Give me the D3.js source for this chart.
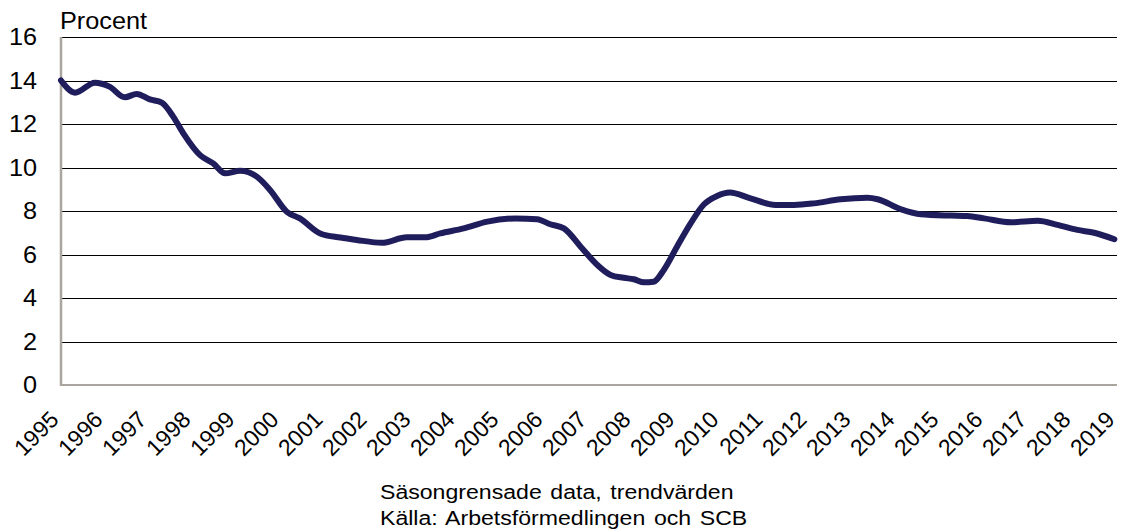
<!DOCTYPE html>
<html>
<head>
<meta charset="utf-8">
<script src="https://cdn.jsdelivr.net/npm/d3@7"></script>
<style>
  body { margin: 0; background: #fff; }
  text { font-family: "Liberation Sans", Arial, sans-serif; fill: #000; }
</style>
</head>
<body>
<svg id="chart" width="1121" height="531"></svg>
<script>
// values (decimal year, percent)
var years = [1995.0, 1995.32, 1995.77, 1996.1, 1996.45, 1996.72, 1997.02, 1997.29, 1997.55, 1997.78,
    1998.16, 1998.46, 1998.73, 1999.07, 1999.45, 1999.75, 2000.13, 2000.43, 2000.89, 2001.35,
    2001.72, 2002.29, 2002.86, 2003.28, 2003.62, 2004.15, 2004.69, 2005.33, 2005.82, 2006.12,
    2006.43, 2006.81, 2007.19, 2007.49, 2007.79, 2008.02, 2008.25, 2008.47, 2008.7, 2009.0,
    2009.31, 2009.61, 2009.91, 2010.2, 2010.67, 2011.24, 2011.66, 2012.11, 2012.72, 2013.33,
    2013.56, 2014.09, 2014.54, 2015.22, 2015.6, 2015.98, 2016.59, 2017.2, 2017.65, 2018.1,
    2018.48, 2018.94];
var values = [14.0, 13.44, 13.9, 13.72, 13.23, 13.38, 13.13, 12.98, 12.34, 11.57,
    10.57, 10.19, 9.73, 9.85, 9.58, 8.97, 7.97, 7.66, 6.97, 6.78,
    6.67, 6.54, 6.79, 6.79, 6.97, 7.2, 7.51, 7.66, 7.62, 7.39,
    7.2, 6.36, 5.52, 5.06, 4.93, 4.86, 4.72, 4.75, 5.29, 6.36,
    7.43, 8.3, 8.69, 8.85, 8.58, 8.28, 8.28, 8.35, 8.54, 8.61,
    8.54, 8.08, 7.85, 7.79, 7.77, 7.66, 7.48, 7.55, 7.36, 7.13,
    7.0, 6.7];
var yTicks = [0, 2, 4, 6, 8, 10, 12, 14, 16];
var xTicks = d3.range(1995, 2020);
var footer = ["Säsongrensade data, trendvärden", "Källa: Arbetsförmedlingen och SCB"];

var svg = d3.select("#chart");
var m = {left: 61, right: 1117, top: 37, bottom: 385};
var sx = 1.1; // reference text looks a little wide

var x = d3.scaleLinear().domain([1995, 2019]).range([m.left, m.right]);
var y = d3.scaleLinear().domain([0, 16]).range([m.bottom, m.top]);

// gridlines
svg.append("g")
    .selectAll("line")
    .data(yTicks.filter(function(d) { return d > 0; }))
    .enter().append("line")
    .attr("x1", m.left).attr("x2", m.right)
    .attr("y1", function(d) { return Math.round(y(d)) + 0.5; })
    .attr("y2", function(d) { return Math.round(y(d)) + 0.5; })
    .attr("stroke", "#000")
    .attr("stroke-width", 1.2);

// y labels
svg.append("g")
    .selectAll("text")
    .data(yTicks)
    .enter().append("text")
    .attr("transform", function(d) { return "translate(37," + y(d) + ") scale(" + sx + ",1)"; })
    .attr("dy", "0.36em")
    .attr("text-anchor", "end")
    .style("font-size", "23px")
    .text(function(d) { return d; });

svg.append("text")
    .attr("transform", "translate(60,29) scale(" + sx + ",1)")
    .style("font-size", "23px")
    .text("Procent");

// axes lines
svg.append("line")
    .attr("x1", m.left).attr("x2", m.left).attr("y1", m.top).attr("y2", m.bottom + 1)
    .attr("stroke", "#aaa59f").attr("stroke-width", 2.5);
svg.append("line")
    .attr("x1", m.left).attr("x2", m.right).attr("y1", m.bottom).attr("y2", m.bottom)
    .attr("stroke", "#aaa59f").attr("stroke-width", 2);

// x labels
svg.append("g")
    .selectAll("text")
    .data(xTicks)
    .enter().append("text")
    .attr("text-anchor", "end")
    .attr("transform", function(d) { return "translate(" + (x(d) - 1) + ",421) rotate(-45)"; })
    .style("font-size", "23px")
    .text(function(d) { return d; });

// line
var line = d3.line()
    .x(function(d) { return x(d[0]); })
    .y(function(d) { return y(d[1]); })
    .curve(d3.curveMonotoneX);

svg.append("path")
    .datum(d3.zip(years, values))
    .attr("d", line)
    .attr("fill", "none")
    .attr("stroke", "#201d5c")
    .attr("stroke-width", 6)
    .attr("stroke-linejoin", "round")
    .attr("stroke-linecap", "round");

// footer
svg.append("g")
    .selectAll("text")
    .data(footer)
    .enter().append("text")
    .attr("transform", function(d, i) { return "translate(380," + (499 + i * 26) + ") scale(" + sx + ",1)"; })
    .style("font-size", "21px")
    .style("word-spacing", "2px")
    .text(function(d) { return d; });
</script>
</body>
</html>
